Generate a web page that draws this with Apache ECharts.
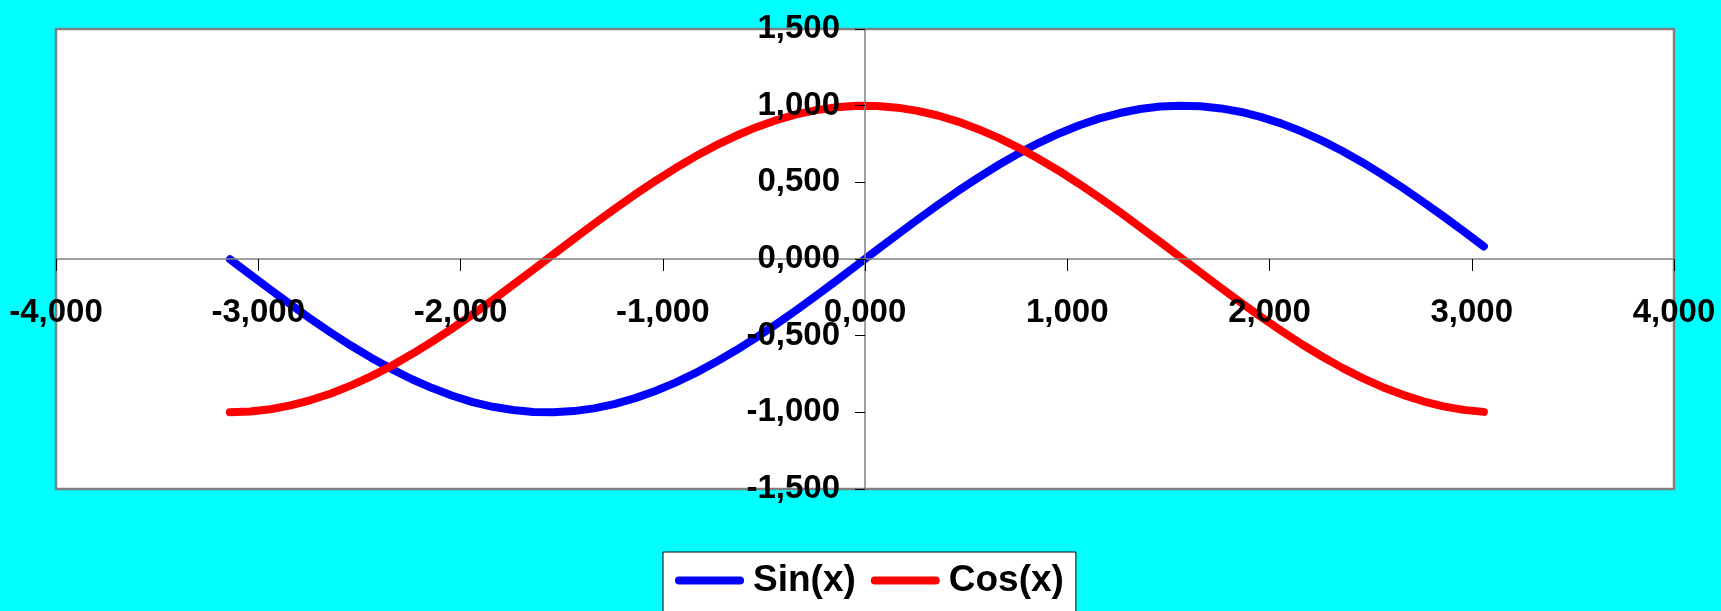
<!DOCTYPE html>
<html>
<head>
<meta charset="utf-8">
<script src="https://cdn.jsdelivr.net/npm/echarts@6/dist/echarts.min.js"></script>
<style>
  html, body { margin: 0; padding: 0; background: #00FFFF; }
  #chart { width: 1721px; height: 611px; }
</style>
</head>
<body>
<div id="chart"></div>
<script>
// Sample points x (radians) and the two curves
const xValues = [
  -3.14, -3.04, -2.94, -2.84, -2.74, -2.64, -2.54, -2.44, -2.34, -2.24,
  -2.14, -2.04, -1.94, -1.84, -1.74, -1.64, -1.54, -1.44, -1.34, -1.24,
  -1.14, -1.04, -0.94, -0.84, -0.74, -0.64, -0.54, -0.44, -0.34, -0.24,
  -0.14, -0.04, 0.06, 0.16, 0.26, 0.36, 0.46, 0.56, 0.66, 0.76,
  0.86, 0.96, 1.06, 1.16, 1.26, 1.36, 1.46, 1.56, 1.66, 1.76,
  1.86, 1.96, 2.06, 2.16, 2.26, 2.36, 2.46, 2.56, 2.66, 2.76,
  2.86, 2.96, 3.06
];
const sinValues = [
  -0.002, -0.101, -0.200, -0.297, -0.391, -0.481, -0.566, -0.645, -0.718, -0.784,
  -0.842, -0.892, -0.933, -0.964, -0.985, -0.998, -1.000, -0.992, -0.974, -0.946,
  -0.909, -0.862, -0.808, -0.745, -0.674, -0.597, -0.514, -0.426, -0.334, -0.238,
  -0.140, -0.040, 0.060, 0.159, 0.257, 0.352, 0.444, 0.531, 0.613, 0.689,
  0.758, 0.819, 0.872, 0.917, 0.952, 0.978, 0.994, 1.000, 0.996, 0.982,
  0.959, 0.925, 0.883, 0.831, 0.772, 0.704, 0.630, 0.549, 0.463, 0.372,
  0.278, 0.181, 0.082
];
const cosValues = [
  -1.000, -0.995, -0.980, -0.955, -0.920, -0.877, -0.824, -0.764, -0.696, -0.620,
  -0.539, -0.452, -0.361, -0.267, -0.168, -0.069, 0.031, 0.130, 0.229, 0.325,
  0.418, 0.506, 0.590, 0.668, 0.739, 0.802, 0.858, 0.905, 0.943, 0.971,
  0.990, 0.999, 0.998, 0.987, 0.966, 0.936, 0.896, 0.847, 0.790, 0.725,
  0.652, 0.574, 0.489, 0.399, 0.306, 0.209, 0.111, 0.011, -0.089, -0.188,
  -0.285, -0.380, -0.470, -0.556, -0.636, -0.710, -0.777, -0.836, -0.886, -0.928,
  -0.961, -0.984, -0.997
];
const seriesNames = ['Sin(x)', 'Cos(x)'];

// Axis ranges and tick steps
const xMin = -4, xMax = 4, xStep = 1;
const yMin = -1.5, yMax = 1.5, yStep = 0.5;

// Plot box (px) inside the 1721x611 canvas
const box = { left: 56, right: 47, top: 29, bottom: 122 };
const W = 1721, H = 611;
const plotW = W - box.left - box.right;
const plotH = H - box.top - box.bottom;
// Axes cross at the origin: shift each axis from its grid edge to the zero line
const xAxisOffset = -plotH * (0 - yMin) / (yMax - yMin);
const yAxisOffset = -plotW * (0 - xMin) / (xMax - xMin);

const FONT = "'Liberation Sans Narrow', 'Arial Narrow', 'Liberation Sans', Arial, sans-serif";
const fmt = v => v.toFixed(3).replace('.', ',');
const pairs = ys => xValues.map((x, i) => [x, ys[i]]);

const chart = echarts.init(document.getElementById('chart'), null, { renderer: 'canvas' });
chart.setOption({
  animation: false,
  backgroundColor: '#00FFFF',
  grid: {
    left: box.left, right: box.right, top: box.top, bottom: box.bottom,
    containLabel: false, outerBoundsMode: 'none',
    show: true, backgroundColor: '#FFFFFF',
    borderColor: '#808080', borderWidth: 2.5
  },
  xAxis: {
    type: 'value', min: xMin, max: xMax, interval: xStep,
    position: 'bottom', offset: xAxisOffset, z: 5,
    splitLine: { show: false },
    axisLine: { onZero: false, lineStyle: { color: '#808080', width: 1.5 } },
    axisTick: { show: true, inside: false, length: 12, lineStyle: { color: '#000', width: 1 } },
    axisLabel: {
      margin: 37, formatter: fmt, color: '#000',
      fontFamily: FONT, fontWeight: 'bold', fontSize: 33
    }
  },
  yAxis: {
    type: 'value', min: yMin, max: yMax, interval: yStep,
    position: 'left', offset: yAxisOffset, z: 5,
    splitLine: { show: false },
    axisLine: { onZero: false, lineStyle: { color: '#808080', width: 1.5 } },
    axisTick: { show: true, inside: false, length: 10, lineStyle: { color: '#000', width: 1 } },
    axisLabel: {
      margin: 25, formatter: fmt, color: '#000',
      fontFamily: FONT, fontWeight: 'bold', fontSize: 33
    }
  },
  legend: {
    left: 663, top: 552,
    padding: [10, 12, 40, 12],
    backgroundColor: '#FFFFFF', borderColor: '#000', borderWidth: 1,
    itemWidth: 69, itemHeight: 8, itemGap: 15,
    icon: 'path://M4,0 H65 A4,4 0 0 1 65,8 H4 A4,4 0 0 1 4,0 Z',
    textStyle: {
      color: '#000', fontFamily: FONT, fontWeight: 'bold', fontSize: 37,
      padding: [0, 0, 0, 4]
    },
    data: seriesNames
  },
  series: [
    {
      name: seriesNames[0], type: 'line', data: pairs(sinValues), z: 2,
      symbol: 'none', color: '#0000FF',
      lineStyle: { width: 8, color: '#0000FF', cap: 'round', join: 'round' }
    },
    {
      name: seriesNames[1], type: 'line', data: pairs(cosValues), z: 2,
      symbol: 'none', color: '#FF0000',
      lineStyle: { width: 8, color: '#FF0000', cap: 'round', join: 'round' }
    }
  ]
});
</script>
</body>
</html>
